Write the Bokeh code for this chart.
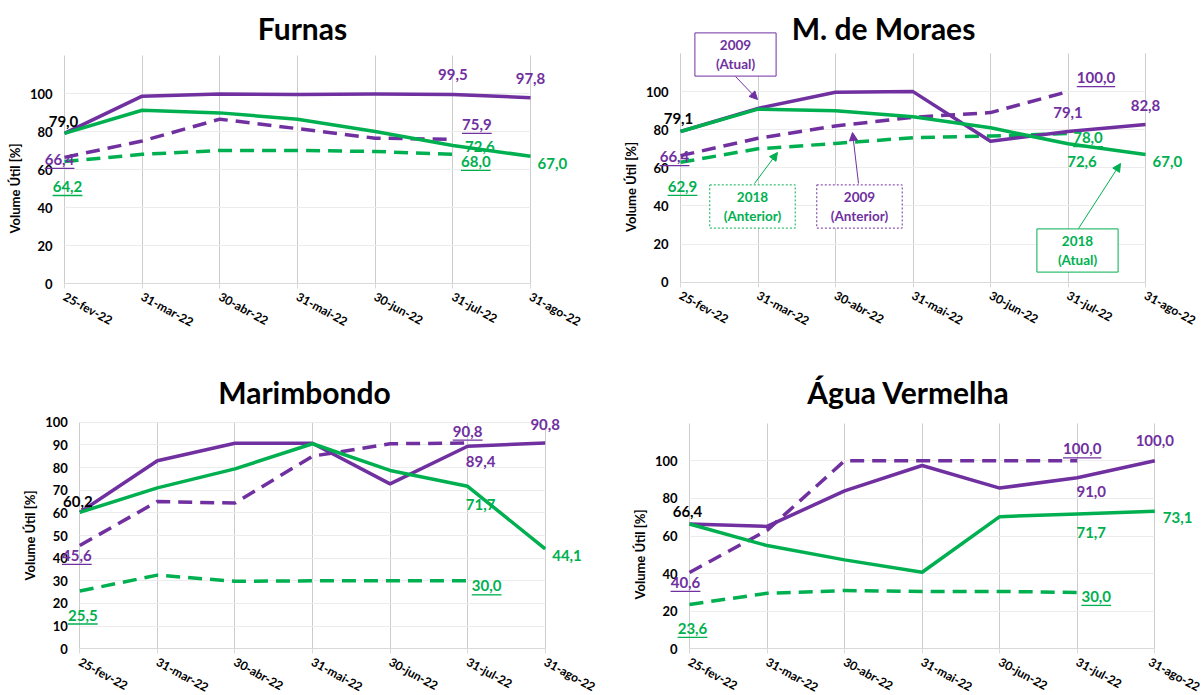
from bokeh.plotting import figure
from bokeh.models import FixedTicker, Label, Arrow, NormalHead, Grid
from bokeh.layouts import column, row
from bokeh.embed import file_html
from bokeh.resources import INLINE

FONT = "Lato"
PURPLE = "#7030A0"
GREEN = "#00B050"

dates = ["25-fev-22", "31-mar-22", "30-abr-22", "31-mai-22", "30-jun-22", "31-jul-22", "31-ago-22"]

# Furnas
furnas_2009_atual = [79.0, 98.6, 99.8, 99.5, 99.7, 99.5, 97.8]
furnas_2018_atual = [79.0, 91.2, 89.8, 86.5, 80.0, 72.6, 67.0]
furnas_2009_anterior = [66.4, 75.0, 86.5, 81.5, 76.5, 75.9]
furnas_2018_anterior = [64.2, 68.0, 70.0, 70.0, 69.5, 68.0]

# M. de Moraes
moraes_2009_atual = [79.1, 91.2, 99.7, 100.0, 74.0, 79.1, 82.8]
moraes_2018_atual = [79.1, 90.8, 90.0, 86.8, 81.0, 72.6, 67.0]
moraes_2009_anterior = [66.4, 75.5, 82.0, 86.5, 89.0, 100.0]
moraes_2018_anterior = [62.9, 70.0, 72.8, 75.8, 76.7, 78.0]

# Marimbondo
marimbondo_2009_atual = [60.2, 83.0, 90.7, 90.7, 72.8, 89.4, 90.8]
marimbondo_2018_atual = [60.2, 71.0, 79.4, 90.5, 78.7, 71.7, 44.1]
marimbondo_2009_anterior = [45.6, 65.0, 64.3, 85.0, 90.5, 90.8]
marimbondo_2018_anterior = [25.5, 32.5, 29.8, 30.0, 30.0, 30.0]

# Água Vermelha
agua_2009_atual = [66.4, 65.1, 84.0, 97.5, 85.5, 91.0, 100.0]
agua_2018_atual = [66.4, 54.9, 47.3, 40.7, 70.3, 71.7, 73.1]
agua_2009_anterior = [40.6, 63.0, 100.0, 100.0, 100.0, 100.0]
agua_2018_anterior = [23.6, 29.5, 31.0, 30.5, 30.5, 30.0]

ticks_20 = [0, 20, 40, 60, 80, 100]
ticks_10 = [0, 10, 20, 30, 40, 50, 60, 70, 80, 90, 100]

HAS_CROSS = "cross_bounds" in Grid.properties()


def fmt(v):
    return f"{v:.1f}".replace(".", ",")


def make_panel(title, title_px, a09, a18, p09, p18, ymax, yticks, canvas, frame_px, labels, notes=()):
    # canvas: (left, top, width, height) in page pixels
    # frame_px: page pixel positions of x=0, x=6, y=0, y=ymax
    cl, ct, cw, ch = canvas
    x0px, x6px, y0px, ytpx = frame_px
    ux = (x6px - x0px) / 6.0
    uy = (y0px - ytpx) / ymax
    xr = ((cl - x0px) / ux, 6 + (cl + cw - x6px) / ux)
    yr = (-(ct + ch - y0px) / uy, (y0px - ct) / uy)

    def dx_(X):
        return (X - x0px) / ux

    def dy_(Y):
        return (y0px - Y) / uy

    p = figure(width=cw, height=ch, x_range=xr, y_range=yr,
               output_backend="svg", toolbar_location=None,
               min_border=0, min_border_left=0, min_border_right=0,
               min_border_top=0, min_border_bottom=0)
    p.outline_line_color = None
    p.grid.visible = False

    xs = list(range(len(dates)))
    xa = p.xaxis[0]
    xa.fixed_location = 0
    xa.bounds = (0, 6)
    xa.ticker = FixedTicker(ticks=xs)
    xa.major_label_overrides = {i: d for i, d in enumerate(dates)}
    xa.major_label_orientation = -0.5
    xa.axis_line_color = "#d9d9d9"
    xa.major_tick_line_color = "#d9d9d9"
    xa.major_tick_out = 5
    xa.major_tick_in = 0
    xa.minor_tick_line_color = None
    xa.major_label_standoff = 7
    xa.major_label_text_font = FONT
    xa.major_label_text_font_size = "12px"
    xa.major_label_text_font_style = "bold"
    xa.major_label_text_color = "black"

    ya = p.yaxis[0]
    ya.fixed_location = 0
    ya.bounds = (0, max(yticks))
    ya.ticker = FixedTicker(ticks=yticks)
    ya.axis_line_color = None
    ya.major_tick_line_color = None
    ya.minor_tick_line_color = None
    ya.major_tick_out = 0
    ya.major_tick_in = 0
    ya.major_label_standoff = 12
    ya.major_label_text_font = FONT
    ya.major_label_text_font_size = "13px"
    ya.major_label_text_font_style = "bold"
    ya.major_label_text_color = "black"
    ya.axis_label = "Volume Útil [%]"
    ya.axis_label_text_font = FONT
    ya.axis_label_text_font_size = "13px"
    ya.axis_label_text_font_style = "bold"
    ya.axis_label_text_color = "black"
    ya.axis_label_standoff = 4

    if HAS_CROSS:
        gx = Grid(dimension=0, ticker=FixedTicker(ticks=xs), cross_bounds=(0, ymax),
                  grid_line_color="#cccccc", level="underlay")
        gy = Grid(dimension=1, ticker=FixedTicker(ticks=yticks[1:]), cross_bounds=(0, 6),
                  grid_line_color="#ececec", level="underlay")
        p.add_layout(gx)
        p.add_layout(gy)
    else:
        p.segment(x0=xs, y0=[0] * len(xs), x1=xs, y1=[ymax] * len(xs), color="#cccccc", line_width=1)
        p.segment(x0=[0] * len(yticks[1:]), y0=yticks[1:], x1=[6] * len(yticks[1:]), y1=yticks[1:],
                  color="#ececec", line_width=1)

    p.line(xs[:len(p09)], p09, color=PURPLE, line_width=3.5, line_dash="14 8")
    p.line(xs[:len(p18)], p18, color=GREEN, line_width=3.5, line_dash="14 8")
    p.line(xs, a09, color=PURPLE, line_width=3.5, line_join="round")
    p.line(xs, a18, color=GREEN, line_width=3.5, line_join="round")

    tx, ty = title_px
    p.add_layout(Label(x=dx_(tx), y=dy_(ty), text=title, text_align="center", text_baseline="middle",
                       text_color="black", text_font=FONT, text_font_size="30px", text_font_style="bold"))

    sx = 1.0 / ux
    sy = 1.0 / uy
    for series, i, color, ox, oy, align, ul in labels:
        v = series[i]
        txt = fmt(v)
        p.add_layout(Label(x=i, y=v, x_offset=ox, y_offset=oy, text=txt,
                           text_align=align, text_baseline="middle",
                           text_color=color, text_font=FONT,
                           text_font_size="15px", text_font_style="bold"))
        if ul:
            w = sum(8.6 if ch_.isdigit() else 4.0 for ch_ in txt)
            if align == "center":
                cx = i + ox * sx
                x0, x1 = cx - w / 2 * sx, cx + w / 2 * sx
            else:
                x0 = i + ox * sx
                x1 = x0 + w * sx
            yy = v + (oy - 9) * sy
            p.add_layout(Arrow(end=None, x_start=x0, x_end=x1, y_start=yy, y_end=yy,
                               line_color=color, line_width=1.3))

    for txt, color, dashed, pad, (bx, by), (ax0, ay0), (ax1, ay1) in notes:
        p.add_layout(Arrow(end=NormalHead(size=8, fill_color=color, line_color=color),
                           x_start=dx_(ax0), y_start=dy_(ay0), x_end=dx_(ax1), y_end=dy_(ay1),
                           line_color=color, line_width=1))
        p.add_layout(Label(x=dx_(bx), y=dy_(by), text=txt, text_align="center", text_baseline="middle",
                           text_color=color, text_font=FONT, text_font_size="13.5px",
                           text_font_style="bold", background_fill_color="white",
                           border_line_color=color, border_line_width=1,
                           border_line_dash="2 2" if dashed else "solid",
                           padding=(pad, 4)))
    return p


p1 = make_panel("Furnas", (302, 27), furnas_2009_atual, furnas_2018_atual, furnas_2009_anterior,
                furnas_2018_anterior, 120, ticks_20, (0, 0, 600, 350), (64, 530, 283, 55), [
                    (furnas_2009_atual, 0, "black", -1, 12, "center", False),
                    (furnas_2009_anterior, 0, PURPLE, -5, -2, "center", True),
                    (furnas_2018_anterior, 0, GREEN, 3, -25, "center", True),
                    (furnas_2009_atual, 5, PURPLE, 0, 20, "center", False),
                    (furnas_2009_atual, 6, PURPLE, 0, 19, "center", False),
                    (furnas_2009_anterior, 5, PURPLE, 24, 15, "center", True),
                    (furnas_2018_atual, 5, GREEN, 27, -1, "center", False),
                    (furnas_2018_anterior, 5, GREEN, 23, -7, "center", True),
                    (furnas_2018_atual, 6, GREEN, 7, -7, "left", False),
                ])

p2 = make_panel("M. de Moraes", (883, 27), moraes_2009_atual, moraes_2018_atual, moraes_2009_anterior,
                moraes_2018_anterior, 120, ticks_20, (600, 0, 602, 350), (680, 1145, 281.7, 53), [
                    (moraes_2009_atual, 0, "black", -2, 13, "center", False),
                    (moraes_2009_anterior, 0, PURPLE, -6, -1, "center", True),
                    (moraes_2018_anterior, 0, GREEN, 2, -24, "center", True),
                    (moraes_2009_anterior, 5, PURPLE, 28, 14, "center", True),
                    (moraes_2009_atual, 5, PURPLE, 0, 19, "center", False),
                    (moraes_2009_atual, 6, PURPLE, 0, 19, "center", False),
                    (moraes_2018_anterior, 5, GREEN, 20, -4, "center", True),
                    (moraes_2018_atual, 5, GREEN, 14, -18, "center", False),
                    (moraes_2018_atual, 6, GREEN, 7, -7, "left", False),
                ], notes=[
                    ("2009\n(Atual)", PURPLE, False, 21, (735, 54), (735, 76), (757, 99)),
                    ("2018\n(Anterior)", GREEN, True, 14, (752, 206), (754, 183), (777, 152)),
                    ("2009\n(Anterior)", PURPLE, True, 14, (859, 206), (858, 183), (852, 132)),
                    ("2018\n(Atual)", GREEN, False, 21, (1077, 250), (1078, 228), (1120, 163)),
                ])

p3 = make_panel("Marimbondo", (304, 391), marimbondo_2009_atual, marimbondo_2018_atual,
                marimbondo_2009_anterior, marimbondo_2018_anterior, 100, ticks_10,
                (0, 350, 600, 344), (79.3, 544.7, 648.3, 421.7), [
                    (marimbondo_2009_atual, 0, "black", -2, 11, "center", False),
                    (marimbondo_2009_anterior, 0, PURPLE, -3, -10, "center", True),
                    (marimbondo_2018_anterior, 0, GREEN, 3, -24, "center", True),
                    (marimbondo_2009_anterior, 5, PURPLE, 0, 12, "center", True),
                    (marimbondo_2009_atual, 5, PURPLE, 13, -15, "center", False),
                    (marimbondo_2009_atual, 6, PURPLE, 0, 19, "center", False),
                    (marimbondo_2018_atual, 5, GREEN, 13, -18, "center", False),
                    (marimbondo_2018_atual, 6, GREEN, 7, -7, "left", False),
                    (marimbondo_2018_anterior, 5, GREEN, 19, -5, "center", True),
                ])

p4 = make_panel("Água Vermelha", (908, 391), agua_2009_atual, agua_2018_atual, agua_2009_anterior,
                agua_2018_anterior, 120, ticks_20, (600, 350, 602, 344), (689, 1154.3, 648.3, 422.7), [
                    (agua_2009_atual, 0, "black", -2, 12, "center", False),
                    (agua_2009_anterior, 0, PURPLE, -4, -10, "center", True),
                    (agua_2018_anterior, 0, GREEN, 3, -24, "center", True),
                    (agua_2009_anterior, 5, PURPLE, 5, 12, "center", True),
                    (agua_2009_atual, 5, PURPLE, 14, -14, "center", False),
                    (agua_2009_atual, 6, PURPLE, 0, 20, "center", False),
                    (agua_2018_atual, 5, GREEN, 14, -18, "center", False),
                    (agua_2018_atual, 6, GREEN, 8, -6, "left", False),
                    (agua_2018_anterior, 5, GREEN, 19, -4, "center", True),
                ])

layout = column(row(p1, p2), row(p3, p4))
open("out.html", "w").write(file_html(layout, INLINE))
